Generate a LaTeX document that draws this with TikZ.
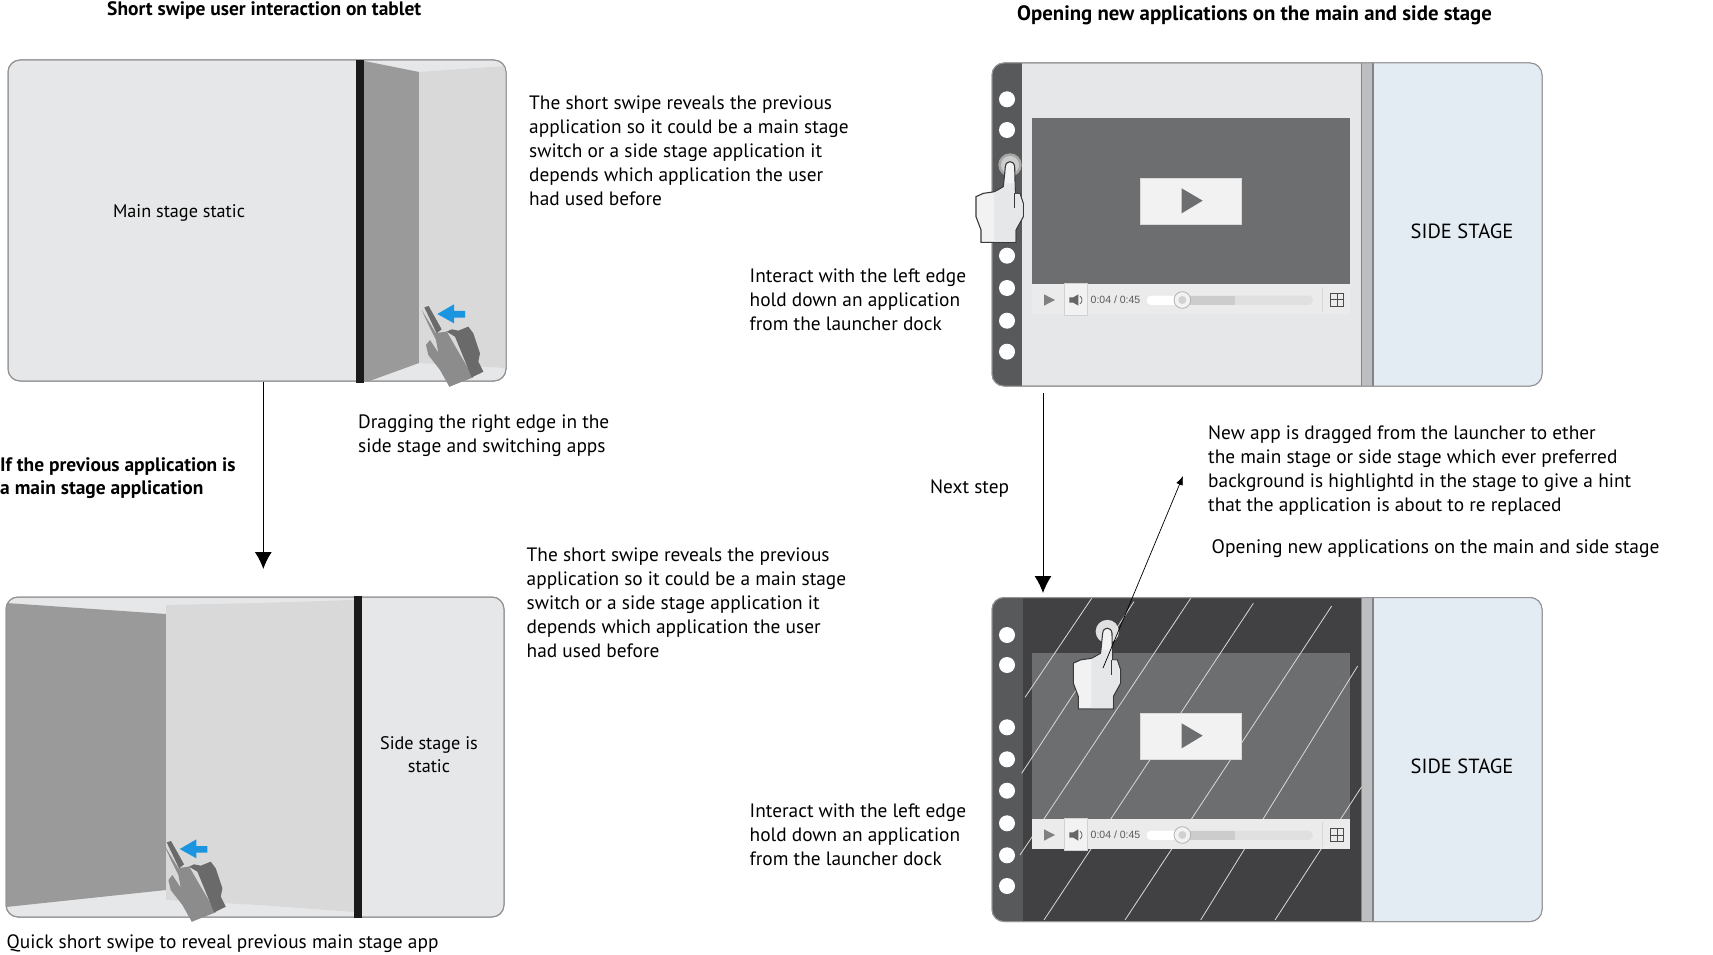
\documentclass[tikz,border=0pt]{standalone}
\usepackage{fontspec}
\setmainfont{PT Sans}
\newfontfamily\smallui{Liberation Sans}
\usetikzlibrary{arrows.meta}
\definecolor{panelbg}{HTML}{E6E7E8}
\definecolor{foldlight}{HTML}{D9D9DA}
\definecolor{foldgray}{HTML}{9A9A9B}
\definecolor{edgegray}{HTML}{939395}
\definecolor{barblack}{HTML}{1A1A1A}
\definecolor{dockgray}{HTML}{58595B}
\definecolor{darkmain}{HTML}{414042}
\definecolor{videogray}{HTML}{6D6E70}
\definecolor{sepgray}{HTML}{BCBEC0}
\definecolor{sepedge}{HTML}{848486}
\definecolor{sideblue}{HTML}{E4ECF3}
\definecolor{swipeblue}{HTML}{1B95E0}
\definecolor{handmid}{HTML}{8C8C8D}
\definecolor{handdark}{HTML}{6A6A6B}
\definecolor{handline}{HTML}{3A3A3C}
\tikzset{
  panel/.style={draw=edgegray,line width=1pt,rounded corners=12pt,inner sep=0pt},
  para/.style={anchor=west,inner sep=0pt,align=left,font=\fontsize{19.35}{24}\selectfont,text=black},
  headline/.style={para,font=\bfseries\fontsize{19.45}{22.5}\selectfont},
  centred/.style={para,anchor=center,align=center,font=\fontsize{18.2}{23}\selectfont},
  stagelabel/.style={para,anchor=center,font=\fontsize{20.5}{24}\selectfont},
  flow/.style={draw=black,line width=1pt,-{Latex[length=17pt,width=17pt]}},
  thinflow/.style={draw=black,line width=0.7pt,-{Latex[length=9pt,width=7pt]}},
  hatch/.style={draw=white!85!black,line width=0.8pt},
}
% swipe hand drawn in zoom coordinates
\newcommand{\swipehand}[2]{%
\begin{scope}[shift={(#1,#2)},scale=1/3]
  \fill[handmid] (275,780) -- (318,850) -- (350,845) -- (425,982) -- (460,965) -- (358,1010) -- (330,960) -- (295,915) -- (288,885) -- (300,870) -- (325,908) -- (318,870) -- (298,830) -- cycle;
  \fill[handmid] (318,850) -- (350,845) -- (430,982) -- (358,1010) -- (325,905) -- cycle;
  \fill[handdark] (283,772) -- (296,768) -- (335,838) -- (320,850) -- cycle;
  \fill[handdark] (350,845) -- (365,838) -- (385,842) -- (415,830) -- (430,850) -- (450,910) -- (445,935) -- (460,965) -- (425,982) -- (375,860) -- cycle;
  \fill[swipeblue] (322,792) -- (372,763) -- (372,783) -- (405,783) -- (405,803) -- (372,803) -- (372,820) -- cycle;
\end{scope}}
% touch hand
\newcommand{\touchhand}[4]{%
\begin{scope}[shift={(#1,#2)},scale=1/3]
  \fill[#3] (120,345) circle (35);
  \fill[#4] (120,345) circle (27);
  \path[draw=handline,line width=1.1pt,fill=white!95!black] (33,577) -- (33,540) -- (18,500) -- (18,440) -- (40,430) -- (75,425) -- (100,410) -- (106,350) .. controls (108,330) and (132,330) .. (134,350) -- (136,430) -- (150,430) -- (160,460) -- (160,500) -- (138,540) -- (138,577) -- cycle;
  \fill[panelbg] (72,575) -- (72,428) -- (100,414) -- (108,400) -- (132,400) -- (134,432) -- (148,432) -- (157,460) -- (157,498) -- (135,538) -- (135,575) -- cycle;
  \draw[handline,line width=1.6pt] (133,430) -- (133,475);
\end{scope}}
% video player
\newcommand{\playerui}[3]{%
\begin{scope}[shift={(#1,#2)},scale=1/3]
  \fill[videogray] (186,203) rectangle (1140,703);
  #3
  \fill[white!92!black] (186,703) rectangle (1140,792);
  \fill[white!95!black] (283,700) rectangle (352,795);
  \draw[white!82!black,line width=0.6pt] (283,700) rectangle (352,795);
  \fill[white!95!black,draw=white!85!black,line width=0.6pt] (512,385) rectangle (815,522);
  \fill[videogray] (635,415) -- (698,452) -- (635,490) -- cycle;
  \fill[white!50!black] (222,733) -- (255,750) -- (222,767) -- cycle;
  \fill[white!40!black] (298,742) -- (310,742) -- (325,733) -- (325,767) -- (310,758) -- (298,758) -- cycle;
  \draw[white!40!black,line width=0.8pt] (330,738) .. controls (338,745) and (338,755) .. (330,762);
  \fill[white!88!black,rounded corners=4pt] (530,737) rectangle (1028,765);
  \fill[white!80!black] (640,737) rectangle (795,765);
  \fill[white,rounded corners=4pt] (530,737) rectangle (635,765);
  \draw[white!70!black,fill=white!95!black,line width=0.8pt] (637,750) circle (25);
  \fill[white!82!black] (637,750) circle (12);
  \draw[white!85!black,line width=0.6pt] (1058,712) -- (1058,785);
  \draw[white!30!black,line width=1pt] (1081,731) rectangle (1121,769) (1101,731) -- (1101,769) (1081,750) -- (1121,750);
\end{scope}}
\begin{document}
\begin{tikzpicture}[x=1pt,y=-1pt]
\useasboundingbox (0,0) rectangle (1713,955);
\fill[white] (0,0) rectangle (1713,955);

% ---- top-left tablet
\node[panel,fill=panelbg,minimum width=498pt,minimum height=321pt] (tabletA) at (257,220.5) {};
\begin{scope}
  \clip[rounded corners=12pt] (8,60) rectangle (506,381);
  \fill[foldgray] (364,61) -- (419,72) -- (419,363) -- (364,383) -- cycle;
  \fill[foldlight] (419,72) -- (506,66) -- (506,368) -- (419,363) -- cycle;
\end{scope}
\node[panel,minimum width=498pt,minimum height=321pt] (tabletAedge) at (257,220.5) {};
\fill[barblack] (356,60) rectangle (364,383);
\swipehand{330}{50}

% ---- bottom-left tablet
\node[panel,fill=panelbg,minimum width=498pt,minimum height=320pt] (tabletB) at (255,757) {};
\begin{scope}
  \clip[rounded corners=12pt] (6,597) rectangle (504,917);
  \fill[foldgray] (6,603) -- (166,614) -- (166,890) -- (6,907) -- cycle;
  \fill[foldlight] (166,605) -- (260,603) -- (355,600) -- (355,912) -- (260,905) -- (166,900) -- cycle;
\end{scope}
\node[panel,minimum width=498pt,minimum height=320pt] (tabletBedge) at (255,757) {};
\fill[barblack] (354,596) rectangle (361.5,918);
\swipehand{72.4}{585}

% ---- top-right tablet
\node[panel,fill=panelbg,minimum width=550pt,minimum height=323pt] (tabletC) at (1267,224.5) {};
\begin{scope}
  \clip[rounded corners=12pt] (992,63) rectangle (1542,386);
  \fill[dockgray] (992,63) rectangle (1022,386);
  \fill[sideblue] (1373.5,63) rectangle (1542,386);
  \fill[sepgray] (1362,63) rectangle (1373.5,386);
  \fill[sepedge] (1361,63) rectangle (1362,386);
  \fill[sepedge] (1372,63) rectangle (1374,386);
\end{scope}
\node[panel,minimum width=550pt,minimum height=323pt] (tabletCedge) at (1267,224.5) {};
\foreach \yy in {99.3,130,255.7,288,320.7,351.7} \fill[white] (1007,\yy) circle (8);
\playerui{970}{50}{}
\node[inner sep=0pt,font=\smallui\fontsize{10.5}{12}\selectfont,text=dockgray,anchor=west] (timeC) at (1090.5,300) {0:04 / 0:45};
\touchhand{970}{50}{black!35}{black!20}

% ---- bottom-right tablet
\node[panel,fill=darkmain,minimum width=550pt,minimum height=324pt] (tabletD) at (1267,759.5) {};
\begin{scope}
  \clip[rounded corners=12pt] (992,597.5) rectangle (1542,921.5);
  \fill[dockgray] (992,597) rectangle (1022.5,922);
  \fill[sideblue] (1373.5,597) rectangle (1542,922);
  \fill[sepgray] (1362,597) rectangle (1373.5,922);
  \fill[sepedge] (1361,597) rectangle (1362,922);
  \fill[sepedge] (1372,597) rectangle (1374,922);
\end{scope}
\node[panel,minimum width=550pt,minimum height=324pt] (tabletDedge) at (1267,759.5) {};
\foreach \yy in {635,665,727.3,759.3,790.7,823.3,855.3,886} \fill[white] (1007,\yy) circle (8);
\playerui{970}{585}{%
  \begin{scope}[shift={(0,15)}]
  \draw[hatch] (365,25) -- (165,322) (492,35) -- (155,550) (662,25) -- (150,795)
     (850,40) -- (222,990) (1085,48) -- (465,990) (1163,228) -- (692,990)
     (1175,590) -- (915,990);
  \end{scope}}
\node[inner sep=0pt,font=\smallui\fontsize{10.5}{12}\selectfont,text=dockgray,anchor=west] (timeD) at (1090.5,835) {0:04 / 0:45};
\touchhand{1067.3}{516.5}{black!12}{black!12}

% ---- connectors
\coordinate (endL) at (263.3,569);
\coordinate (endR) at (1043,593);
\coordinate (startR) at (1043,393);
\coordinate (fromHand) at (1103,668);
\coordinate (toNote) at (1183,476);
\draw[flow] (tabletA.south -| endL) -- (endL);
\draw[flow] (startR) -- (endR);
\draw[thinflow] (fromHand) -- (toNote);

% ---- texts
\node[headline] (t1) at (107,11) {Short swipe user interaction on tablet};
\node[headline,font=\bfseries\fontsize{20.8}{24}\selectfont] (t2) at (1017,15) {Opening new applications on the main and side stage};
\node[para] (p1) at (529,151) {The short swipe reveals the previous\\application so it could be a main stage\\switch or a side stage application it\\depends which application the user\\had used before};
\node[centred] (l1) at (179,213) {Main stage static};
\node[para] (p2) at (358,436) {Dragging the right edge in the\\side stage and switching apps};
\node[headline] (p3) at (0,478) {If the previous application is\\a main stage application};
\node[para] (p4) at (526.5,603) {The short swipe reveals the previous\\application so it could be a main stage\\switch or a side stage application it\\depends which application the user\\had used before};
\node[centred] (l2) at (429,755) {Side stage is\\static};
\node[para] (p5) at (6.5,943.5) {Quick short swipe to reveal previous main stage app};
\node[para] (p6) at (749.5,300) {Interact with the left edge\\hold down an application\\from the launcher dock};
\node[stagelabel] (s1) at (1462,231.5) {SIDE STAGE};
\node[para] (p7) at (930,489) {Next step};
\node[para] (p8) at (1208,470.5) {New app is dragged from the launcher to ether\\the main stage or side stage which ever preferred\\background is highlightd in the stage to give a hint\\that the application is about to re replaced};
\node[para,font=\fontsize{19.5}{24}\selectfont] (p9) at (1211.5,549) {Opening new applications on the main and side stage};
\node[para] (p10) at (749.5,835) {Interact with the left edge\\hold down an application\\from the launcher dock};
\node[stagelabel] (s2) at (1462,766.5) {SIDE STAGE};
\end{tikzpicture}
\end{document}
